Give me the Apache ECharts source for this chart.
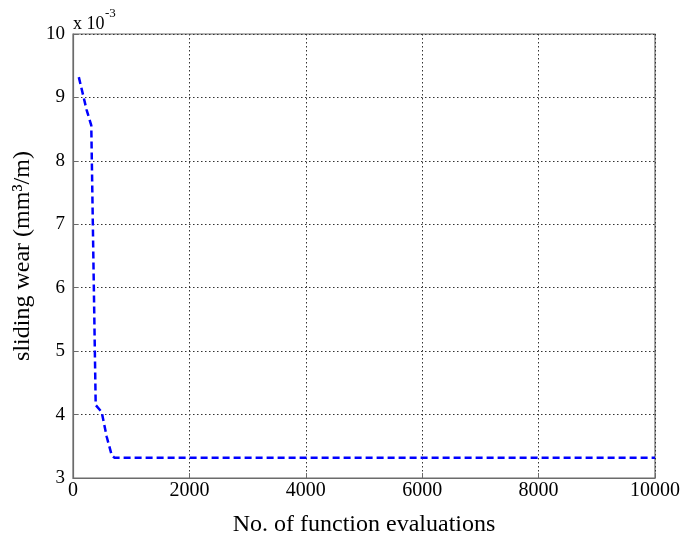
<!DOCTYPE html>
<html>
<head>
<meta charset="utf-8">
<script src="https://cdn.jsdelivr.net/npm/echarts@6/dist/echarts.min.js"></script>
<style>
html,body{margin:0;padding:0;background:#fff;}
#container{width:697px;height:539px;}
</style>
</head>
<body>
<div id="container"></div>
<script>
// function evaluations and sliding wear (in units of 1e-3 mm3/m)
var evals = [100, 235, 314, 390, 493, 579, 665, 710, 10000];
var wear  = [9.32, 8.80, 8.56, 4.15, 4.04, 3.65, 3.36, 3.32, 3.32];
var xTicks = [0, 2000, 4000, 6000, 8000, 10000];
var yTicks = [3, 4, 5, 6, 7, 8, 9, 10];

var pts = [];
for(var i=0;i<evals.length;i++){
	pts.push([evals[i], wear[i]]);
}

var myChart = echarts.init(document.getElementById('container'));
var font = 'Liberation Serif';
var option = {
	animation: false,
	backgroundColor: '#fff',
	grid: {
		left: 73, right: 42, top: 34, bottom: 61,
		outerBoundsMode: 'none',
		show: true, borderColor: '#6b6b6b', borderWidth: 1.2
	},
	graphic: [{
		type: 'text', left: 73, top: 15,
		style: {text: 'x 10', fontFamily: font, fontSize: 18, fill: '#000'}
	},{
		type: 'text', left: 105, top: 7,
		style: {text: '-3', fontFamily: font, fontSize: 13, fill: '#000'}
	}],
	xAxis: {
		type: 'value',
		min: xTicks[0], max: xTicks[xTicks.length-1], interval: 2000,
		name: 'No. of function evaluations',
		nameLocation: 'middle', nameGap: 35,
		nameTextStyle: {fontFamily: font, fontSize: 24, color: '#000'},
		axisLine: {show: true, lineStyle: {color: '#6b6b6b', width: 1.2}},
		axisTick: {show: true, inside: true, length: 5, lineStyle: {color: '#6b6b6b'}},
		axisLabel: {fontFamily: font, fontSize: 20, color: '#000', margin: 3,
			formatter: function(v){ return String(v); }},
		splitLine: {show: true, lineStyle: {type: [1.5, 2.5], color: '#333', width: 1}}
	},
	yAxis: {
		type: 'value',
		min: yTicks[0], max: yTicks[yTicks.length-1], interval: 1,
		name: 'sliding wear (mm\u00b3/m)',
		nameLocation: 'middle', nameGap: 31, nameRotate: 90,
		nameTextStyle: {fontFamily: font, fontSize: 24, color: '#000'},
		axisLine: {show: true, lineStyle: {color: '#6b6b6b', width: 1.2}},
		axisTick: {show: true, inside: true, length: 5, lineStyle: {color: '#6b6b6b'}},
		axisLabel: {fontFamily: font, fontSize: 19, color: '#000', margin: 8},
		splitLine: {show: true, lineStyle: {type: [1.5, 2.5], color: '#333', width: 1}}
	},
	series: [{
		type: 'line',
		data: pts,
		showSymbol: false,
		lineStyle: {color: '#0000ff', width: 2.5, type: [7, 4]}
	}]
};
myChart.setOption(option);
</script>
</body>
</html>
